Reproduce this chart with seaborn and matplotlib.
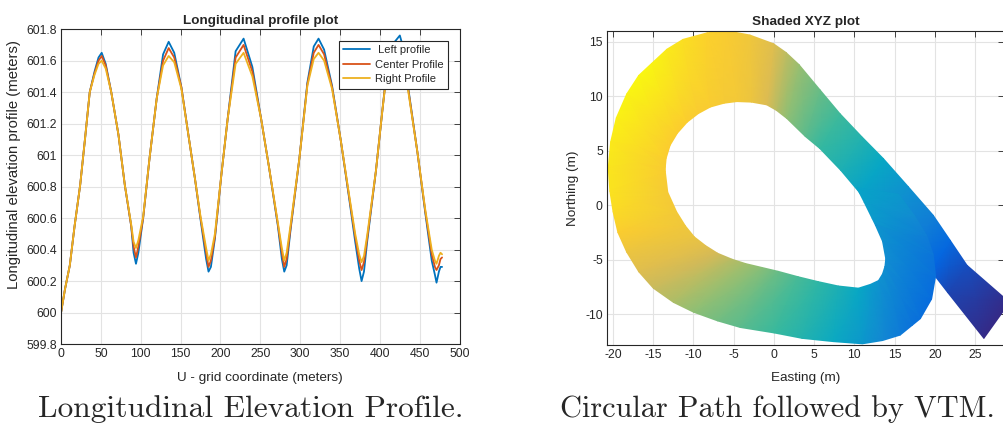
import matplotlib
matplotlib.use('Agg')
import matplotlib.pyplot as plt
from matplotlib.colors import LinearSegmentedColormap
from matplotlib.ticker import FuncFormatter
import numpy as np
import pandas as pd
import seaborn as sns

# --- longitudinal profiles ---
u_grid = [0, 5, 11, 17, 24, 30, 36, 42, 47, 51, 56, 63, 72, 80, 88, 91, 94, 97,
          103, 111, 120, 128, 135, 142, 151, 160, 168, 175, 182, 185, 188, 193,
          201, 209, 219, 229, 240, 251, 261, 272, 277, 280, 283, 288, 299, 309,
          317, 323, 330, 340, 351, 361, 369, 374, 377, 380, 384, 395, 403, 409,
          417, 425, 431, 436, 447, 457, 465, 469, 471, 474, 476, 478]

center_profile = [600.00, 600.15, 600.30, 600.55, 600.81, 601.10, 601.40, 601.52, 601.60, 601.63,
                  601.57, 601.40, 601.13, 600.81, 600.55, 600.42, 600.35, 600.42,
                  600.60, 600.98, 601.36, 601.60, 601.68, 601.62, 601.43, 601.12, 600.85,
                  600.60, 600.38, 600.29, 600.33, 600.48,
                  600.87, 601.23, 601.62, 601.70, 601.53, 601.23, 600.92, 600.56, 600.38,
                  600.29, 600.34, 600.54, 600.98, 601.45,
                  601.65, 601.70, 601.64, 601.43, 601.09, 600.75, 600.48, 600.33, 600.27,
                  600.32, 600.47, 600.90, 601.28, 601.55,
                  601.68, 601.72, 601.62, 601.40, 601.02, 600.64, 600.37, 600.29, 600.27,
                  600.30, 600.34, 600.35]

left_profile = [600.00, 600.15, 600.30, 600.55, 600.81, 601.10, 601.40, 601.53, 601.62, 601.65,
                601.58, 601.40, 601.13, 600.81, 600.55, 600.38, 600.31, 600.38,
                600.60, 600.98, 601.36, 601.64, 601.72, 601.65, 601.43, 601.12, 600.85,
                600.59, 600.34, 600.26, 600.29, 600.47,
                600.87, 601.23, 601.66, 601.74, 601.56, 601.23, 600.92, 600.55, 600.34,
                600.26, 600.30, 600.53, 600.98, 601.46,
                601.69, 601.74, 601.67, 601.44, 601.09, 600.74, 600.45, 600.28, 600.20,
                600.26, 600.45, 600.90, 601.28, 601.56,
                601.71, 601.76, 601.65, 601.41, 601.02, 600.63, 600.33, 600.24, 600.19,
                600.26, 600.29, 600.29]

right_profile = [600.00, 600.15, 600.30, 600.55, 600.81, 601.10, 601.40, 601.51, 601.58, 601.60,
                 601.55, 601.40, 601.13, 600.81, 600.56, 600.45, 600.41, 600.46,
                 600.61, 600.98, 601.36, 601.57, 601.63, 601.59, 601.42, 601.12, 600.85,
                 600.61, 600.41, 600.33, 600.37, 600.50,
                 600.87, 601.23, 601.58, 601.65, 601.50, 601.23, 600.92, 600.57, 600.41,
                 600.33, 600.38, 600.56, 600.98, 601.44,
                 601.61, 601.65, 601.60, 601.42, 601.09, 600.76, 600.50, 600.37, 600.32,
                 600.36, 600.49, 600.90, 601.28, 601.54,
                 601.64, 601.67, 601.58, 601.39, 601.02, 600.65, 600.40, 600.33, 600.31,
                 600.36, 600.38, 600.37]

profile_names = [' Left profile', 'Center Profile', 'Right Profile']
profile_colors = ['#0072BD', '#D95319', '#EDB120']

# --- shaded XYZ path: outer / inner edge of the driven band and its shade ---
# stations run from the dark tail (lower right) up the diagonal, round the loop
# and back into the diagonal
outer_e = [29.3, 24.0, 21.9, 19.8, 16.7, 13.6, 10.9, 8.2, 5.7, 3.1, 1.5, -0.05,
           -3.0, -5.9, -8.3, -11.3, -13.3, -15.2, -16.8, -18.3, -19.6, -20.3, -20.6,
           -20.4, -20.0, -19.4, -18.3, -16.8, -15.0, -12.5, -10.0, -7.0, -4.2, 0.0,
           3.5, 7.4, 11.0, 13.5, 15.7, 17.2, 18.2, 19.6, 20.1, 19.8, 19.0, 17.5, 15.5]
outer_n = [-8.9, -5.5, -3.2, -0.92, 1.7, 4.28, 6.3, 8.4, 10.6, 12.9, 14.0, 14.8,
           15.6, 16.0, 15.8, 15.2, 14.3, 13.0, 11.9, 10.2, 8.0, 5.8, 3.4,
           1.3, -0.6, -2.5, -4.3, -6.1, -7.6, -8.9, -9.8, -10.6, -11.2, -11.7,
           -12.2, -12.5, -12.7, -12.4, -11.9, -11.0, -10.4, -8.6, -6.5, -4.5, -2.8, -1.0, 1.0]
inner_e = [26.1, 21.6, 19.5, 17.2, 13.9, 10.7, 8.3, 5.7, 3.9, 1.6, 0.3, -0.9,
           -2.8, -4.6, -6.2, -7.9, -9.4, -10.8, -12.0, -12.9, -13.4, -13.5, -13.5,
           -13.2, -12.1, -11.0, -9.9, -8.5, -7.0, -5.2, -3.5, -1.5, 0.5, 3.0,
           5.5, 8.0, 10.5, 12.0, 13.0, 13.5, 13.8, 13.9, 13.5, 12.6, 12.2, 11.2, 10.3]
inner_n = [-12.2, -8.0, -6.0, -4.1, -1.5, 1.1, 3.2, 5.2, 6.3, 7.95, 8.7, 9.2,
           9.45, 9.5, 9.35, 9.0, 8.4, 7.6, 6.6, 5.5, 4.3, 3.5, 3.06,
           1.2, -0.6, -1.9, -2.9, -3.7, -4.4, -4.95, -5.35, -5.7, -6.05, -6.55,
           -7.0, -7.4, -7.6, -7.25, -6.9, -6.3, -5.6, -4.9, -3.3, -1.8, -1.2, 0.3, 1.6]
outer_z = [0.00, 0.08, 0.15, 0.23, 0.30, 0.38, 0.45, 0.51, 0.57, 0.64, 0.70, 0.77,
           0.83, 0.86, 0.88, 0.92, 0.95, 0.98, 0.99, 0.98, 0.97, 0.95, 0.94,
           0.93, 0.91, 0.87, 0.82, 0.77, 0.72, 0.67, 0.62, 0.58, 0.55, 0.50,
           0.45, 0.39, 0.32, 0.26, 0.21, 0.18, 0.17, 0.16, 0.17, 0.19, 0.22, 0.27, 0.32]
inner_z = [0.00, 0.06, 0.13, 0.21, 0.28, 0.36, 0.43, 0.49, 0.55, 0.62, 0.69, 0.76,
           0.82, 0.84, 0.85, 0.86, 0.86, 0.87, 0.87, 0.87, 0.87, 0.86, 0.86,
           0.85, 0.84, 0.83, 0.81, 0.78, 0.74, 0.69, 0.65, 0.61, 0.57, 0.52,
           0.48, 0.43, 0.38, 0.33, 0.30, 0.29, 0.28, 0.28, 0.29, 0.31, 0.33, 0.35, 0.37]

parula_hex = ['#352a87', '#0363e1', '#1485d4', '#06a7c6', '#38b99e',
              '#92bf73', '#d9ba56', '#fcce2e', '#f9fb0e']
parula = LinearSegmentedColormap.from_list('parula', parula_hex)

sns.set_theme(style='white')
plt.rcParams['font.family'] = ['Liberation Sans', 'DejaVu Sans']
plt.rcParams['axes.unicode_minus'] = False

fig = plt.figure(figsize=(10.04, 4.29), dpi=100)
ax1 = fig.add_axes([0.0608, 0.198, 0.397, 0.734])
ax2 = fig.add_axes([0.6046, 0.196, 0.3954, 0.7326])

# left: profiles
df = pd.DataFrame({
    'u': u_grid * 3,
    'elev': left_profile + center_profile + right_profile,
    'profile': [profile_names[0]] * len(u_grid) + [profile_names[1]] * len(u_grid)
               + [profile_names[2]] * len(u_grid),
})
sns.lineplot(data=df, x='u', y='elev', hue='profile', hue_order=profile_names,
             palette=profile_colors, linewidth=1.3, sort=False, estimator=None, ax=ax1)

ax1.set_xlim(0, 500)
ax1.set_ylim(599.8, 601.8)
ax1.set_xticks(np.arange(0, 501, 50))
ax1.set_yticks(np.arange(599.8, 601.81, 0.2))
ax1.yaxis.set_major_formatter(FuncFormatter(lambda v, p: f'{v:g}'))
ax1.set_title('Longitudinal profile plot', fontsize=9.7, fontweight='bold', pad=4)
ax1.set_xlabel('U - grid coordinate (meters)', fontsize=9.7)
ax1.set_ylabel('Longitudinal elevation profile (meters)', fontsize=10.7)

handles, labels = ax1.get_legend_handles_labels()
ax1.legend(handles, labels, loc='upper right', bbox_to_anchor=(0.972, 0.963),
           borderaxespad=0, fontsize=8, frameon=True, fancybox=False,
           edgecolor='#262626', framealpha=1, handlelength=2.4, labelspacing=0.4,
           borderpad=0.4, handletextpad=0.5)
ax1.get_legend().get_frame().set_linewidth(0.8)

# right: shaded path
X = np.array([outer_e, inner_e])
Y = np.array([outer_n, inner_n])
Z = np.array([outer_z, inner_z])
ax2.pcolormesh(X, Y, Z, cmap=parula, shading='gouraud', vmin=0, vmax=1)
ax2.set_xlim(-20.75, 28.6)
ax2.set_ylim(-12.8, 16.0)
ax2.set_xticks(np.arange(-20, 26, 5))
ax2.set_yticks(np.arange(-10, 16, 5))
ax2.set_title('Shaded XYZ plot', fontsize=9.7, fontweight='bold', pad=4)
ax2.set_xlabel('Easting (m)', fontsize=9.7)
ax2.set_ylabel('Northing (m)', fontsize=9.7)

for ax in (ax1, ax2):
    ax.set_axisbelow(True)
    ax.grid(True, color='#e3e3e3', linewidth=0.8)
    ax.tick_params(direction='in', length=4, width=0.6, top=True, right=True,
                   labelsize=8.8, colors='#262626', pad=3)
    for s in ax.spines.values():
        s.set_color('#262626')
        s.set_linewidth(0.8)
    ax.xaxis.label.set_color('#262626')
    ax.yaxis.label.set_color('#262626')
    ax.xaxis.label.set_va('center')
    ax.yaxis.label.set_va('center')

ax1.xaxis.set_label_coords(0.5, -0.108)
ax1.yaxis.set_label_coords(-0.118, 0.57)
ax2.xaxis.set_label_coords(0.5, -0.105)
ax2.yaxis.set_label_coords(-0.085, 0.5)

# captions
fig.text(251 / 1004, 1 - 409 / 429, 'Longitudinal Elevation Profile.', family='cmr10',
         fontsize=22.6, ha='center', va='center')
fig.text(560 / 1004, 1 - 409 / 429, 'Circular Path followed by VTM.', family='cmr10',
         fontsize=21.8, ha='left', va='center')

fig.savefig('out.png', dpi=100)
